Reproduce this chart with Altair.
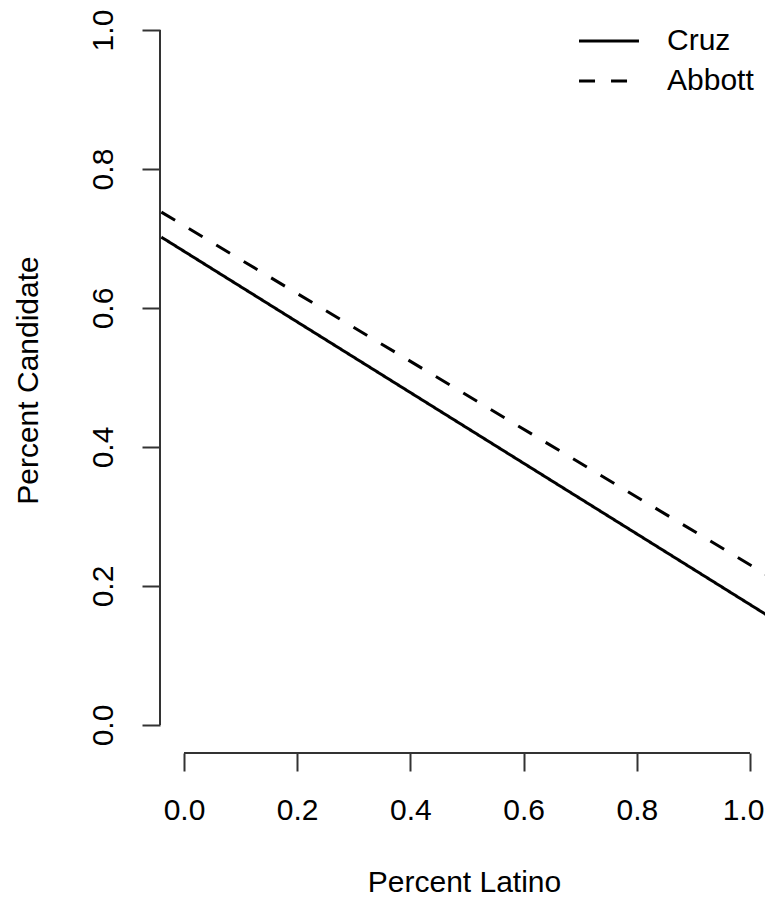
import altair as alt
import pandas as pd

# ---- data ----
x_ends = [-0.04, 1.04]                 # Percent Latino at the plot edges
cruz = [0.702, 0.153]                  # Percent Candidate, Cruz
abbott = [0.738, 0.211]                # Percent Candidate, Abbott
candidates = ["Cruz", "Abbott"]
tick_values = [0.0, 0.2, 0.4, 0.6, 0.8, 1.0]

rows = []
for name, vals in zip(candidates, [cruz, abbott]):
    for x, y in zip(x_ends, vals):
        rows.append({"latino": x, "share": y, "candidate": name})
df = pd.DataFrame(rows)
axis_df = pd.DataFrame({"lo": [tick_values[0]], "hi": [tick_values[-1]]})

W, H = 605, 745
FONT = "Liberation Sans"
AXC = "#333333"

xscale = alt.Scale(domain=[-0.0424, 1.0265], nice=False, zero=False)
yscale = alt.Scale(domain=[-0.0403, 1.0317], nice=False, zero=False)

xaxis = alt.Axis(
    values=tick_values, format=".1f", title="Percent Latino",
    domain=False, grid=False, tickSize=18, tickWidth=2, tickColor=AXC,
    labelFont=FONT, labelFontSize=30, labelColor="black", labelPadding=39,
    labelBaseline="middle", labelFlush=False, labelOverlap=False,
    labelOffset=alt.condition("datum.value == 1", alt.value(-7), alt.value(0)),
    titleFont=FONT, titleFontSize=30, titleFontWeight="normal", titleColor="black",
    titleX=304, titleY=138, titleBaseline="alphabetic", titleAlign="center",
)
yaxis = alt.Axis(
    values=tick_values, format=".1f", title="Percent Candidate",
    domain=False, grid=False, tickSize=18, tickWidth=2, tickColor=AXC,
    labelFont=FONT, labelFontSize=30, labelColor="black", labelPadding=39,
    labelAngle=270, labelAlign="center", labelBaseline="middle",
    labelFlush=False, labelOverlap=False,
    titleFont=FONT, titleFontSize=30, titleFontWeight="normal", titleColor="black",
    titleAngle=270, titleX=-132, titleY=372, titleBaseline="middle", titleAlign="center",
)

lines = alt.Chart(df).mark_line(color="black", strokeWidth=3, clip=True).encode(
    x=alt.X("latino:Q", scale=xscale, axis=xaxis),
    y=alt.Y("share:Q", scale=yscale, axis=yaxis),
    strokeDash=alt.StrokeDash(
        "candidate:N",
        scale=alt.Scale(domain=candidates, range=[[1, 0], [16, 16]]),
        legend=alt.Legend(
            title=None, orient="none", legendX=429, legendY=13,
            symbolType="M-1.62,0H1.62", symbolSize=1369, symbolStrokeWidth=3,
            symbolStrokeColor="black", labelFont=FONT, labelFontSize=30,
            labelColor="black", labelOffset=38, rowPadding=5, padding=0,
        ),
    ),
)

yline = alt.Chart(axis_df).mark_rule(color=AXC, strokeWidth=2).encode(
    y=alt.Y("lo:Q", scale=yscale, axis=yaxis), y2="hi:Q", x=alt.value(0)
)
xline = alt.Chart(axis_df).mark_rule(color=AXC, strokeWidth=2).encode(
    x=alt.X("lo:Q", scale=xscale, axis=xaxis), x2="hi:Q", y=alt.value(H)
)

chart = alt.layer(lines, yline, xline).properties(
    width=W, height=H,
    autosize=alt.AutoSizeParams(type="none"),
    padding={"left": 152, "top": 0, "right": 0, "bottom": 145},
).configure_view(stroke=None)

chart.save("out.html", embed_options={"renderer": "svg", "actions": False})
